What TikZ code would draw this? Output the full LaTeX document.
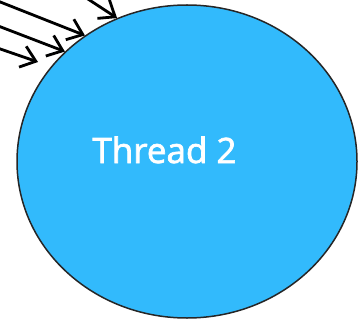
\documentclass[tikz,border=0pt]{standalone}
\usepackage{fontspec}
\newfontfamily\threadfont{Open Sans}[FakeBold=2]
\usetikzlibrary{arrows.meta,positioning,shapes.geometric}
\definecolor{threadblue}{RGB}{50,186,252}
\tikzset{
    threadnode/.style={ellipse,draw=black!85,line width=1.5pt,fill=threadblue,minimum width=340pt,minimum height=313pt,inner sep=0pt},
    callarrow/.style={line width=2.8pt,-{Straight Barb[length=14pt,width=22pt,line width=2.8pt]}}
}
\begin{document}
\begin{tikzpicture}[x=1pt,y=-1pt]
    \useasboundingbox (0,0) rectangle (358,323);
    \clip (0,0) rectangle (358,323);
    \node[threadnode] (t2) at (187,161.5) {};
    \node[anchor=base,text=white,font=\threadfont\fontsize{35}{40}\selectfont] (t2label) at (164.5,163) {Thread 2};
    % incoming calls
    \coordinate (in1) at (68,-14);
    \coordinate (in2) at (-20,-6);
    \coordinate (in3) at (-20,19);
    \coordinate (in4) at (-20,42);
    \coordinate (end4) at (38,62);
    \draw[callarrow] (in1) -- (t2.116);
    \draw[callarrow] (in2) -- (t2.129);
    \draw[callarrow] (in3) -- (t2.138);
    \draw[callarrow] (in4) -- (end4);
\end{tikzpicture}
\end{document}
